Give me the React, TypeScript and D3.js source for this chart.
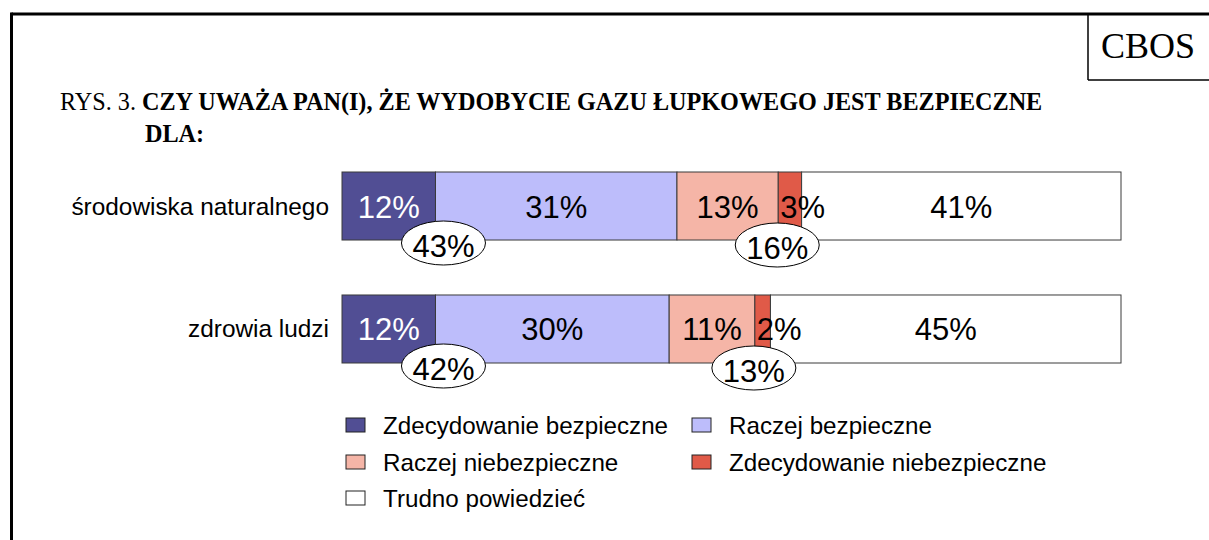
import React, { useEffect } from 'react'
import * as d3 from 'd3'

// dane z wykresu (procenty)
const categories = ['środowiska naturalnego', 'zdrowia ludzi']
const seriesNames = [
  'Zdecydowanie bezpieczne',
  'Raczej bezpieczne',
  'Raczej niebezpieczne',
  'Zdecydowanie niebezpieczne',
  'Trudno powiedzieć',
]
const zdecydowanieBezpieczne = [12, 12]
const raczejBezpieczne = [31, 30]
const raczejNiebezpieczne = [13, 11]
const zdecydowanieNiebezpieczne = [3, 2]
const trudnoPowiedziec = [41, 45]
const sumaBezpieczne = [43, 42]
const sumaNiebezpieczne = [16, 13]

const colors = ['#514e94', '#bdbdfb', '#f5b5a7', '#e05a48', '#ffffff']
const labelColors = ['#ffffff', '#000000', '#000000', '#000000', '#000000']

const W = 1209
const H = 540
const SANS = '"Liberation Sans", Arial, Helvetica, sans-serif'
const SERIF = '"Liberation Serif", "Times New Roman", serif'

function App() {
  useEffect(() => {
    document.body.style.margin = '0'
  }, [])

  const values = [
    zdecydowanieBezpieczne,
    raczejBezpieczne,
    raczejNiebezpieczne,
    zdecydowanieNiebezpieczne,
    trudnoPowiedziec,
  ]
  const table = categories.map((c, i) => {
    const row: any = { category: c }
    seriesNames.forEach((s, k) => (row[s] = values[k][i]))
    return row
  })
  const stacked = d3.stack().keys(seriesNames)(table)

  const x = d3.scaleLinear().domain([0, 100]).range([342, 1121])
  const y = d3
    .scaleBand()
    .domain(categories)
    .range([172, 363])
    .paddingInner(0.447)
    .paddingOuter(0)

  const legendCols = [346, 692]
  const legendRows = [425, 462, 498]

  return (
    <svg width={W} height={H} style={{ display: 'block', background: '#fff' }}>
      {/* ramka */}
      <line x1={11.5} y1={14} x2={W} y2={14} stroke="#000" strokeWidth={3} />
      <line x1={11.5} y1={12.5} x2={11.5} y2={H} stroke="#000" strokeWidth={3} />
      <line x1={1088} y1={14} x2={1088} y2={80} stroke="#000" strokeWidth={1.5} />
      <line x1={1088} y1={80} x2={W} y2={80} stroke="#000" strokeWidth={1.5} />
      <text x={1148} y={58} textAnchor="middle" fontFamily={SERIF} fontSize={36}>
        CBOS
      </text>

      <text x={60} y={110} fontFamily={SERIF} fontSize={24.2}>
        RYS. 3.{' '}
        <tspan fontWeight="bold">
          CZY UWAŻA PAN(I), ŻE WYDOBYCIE GAZU ŁUPKOWEGO JEST BEZPIECZNE
        </tspan>
      </text>
      <text x={145} y={142} fontFamily={SERIF} fontSize={24.2} fontWeight="bold">
        DLA:
      </text>

      {categories.map((c) => (
        <text
          key={c}
          x={329}
          y={y(c)! + y.bandwidth() / 2}
          textAnchor="end"
          dominantBaseline="central"
          fontFamily={SANS}
          fontSize={24.4}
        >
          {c}
        </text>
      ))}

      {stacked.map((layer, k) => (
        <g key={layer.key}>
          {layer.map((d, i) => (
            <rect
              key={i}
              x={x(d[0])}
              y={y(categories[i])}
              width={x(d[1]) - x(d[0])}
              height={y.bandwidth()}
              fill={colors[k]}
              stroke="#3a3a3a"
              strokeWidth={1}
            />
          ))}
        </g>
      ))}
      {stacked.map((layer, k) => (
        <g key={'l' + layer.key}>
          {layer.map((d, i) => {
            // za wąskie segmenty: etykieta od lewej krawędzi segmentu
            const narrow = d[1] - d[0] < 5
            return (
              <text
                key={i}
                x={narrow ? x(d[0]) + 2 : (x(d[0]) + x(d[1])) / 2}
                y={y(categories[i])! + y.bandwidth() / 2 + 1}
                textAnchor={narrow ? 'start' : 'middle'}
                dominantBaseline="central"
                fontFamily={SANS}
                fontSize={31}
                fill={labelColors[k]}
              >
                {d[1] - d[0]}%
              </text>
            )
          })}
        </g>
      ))}

      {/* sumy w elipsach */}
      {categories.map((c, i) => {
        const bottom = y(c)! + y.bandwidth()
        const cxPos = x(stacked[0][i][1]) + 8
        const cxNeg = x(stacked[2][i][1]) - 1
        return (
          <g key={'s' + c} fontFamily={SANS} fontSize={31}>
            <ellipse cx={cxPos} cy={bottom + 3} rx={42} ry={22} fill="#fff" stroke="#000" strokeWidth={1} />
            <text x={cxPos} y={bottom + 6} textAnchor="middle" dominantBaseline="central">
              {sumaBezpieczne[i]}%
            </text>
            <ellipse cx={cxNeg} cy={bottom + 5} rx={42} ry={22} fill="#fff" stroke="#000" strokeWidth={1} />
            <text x={cxNeg} y={bottom + 8} textAnchor="middle" dominantBaseline="central">
              {sumaNiebezpieczne[i]}%
            </text>
          </g>
        )
      })}

      {/* legenda */}
      {seriesNames.map((s, k) => {
        const lx = legendCols[k % 2]
        const ly = legendRows[Math.floor(k / 2)]
        return (
          <g key={'lg' + s}>
            <rect x={lx} y={ly - 7} width={19} height={14} fill={colors[k]} stroke="#222" strokeWidth={1} />
            <text x={lx + 37} y={ly} dominantBaseline="central" fontFamily={SANS} fontSize={24.2}>
              {s}
            </text>
          </g>
        )
      })}
    </svg>
  )
}

export default App
